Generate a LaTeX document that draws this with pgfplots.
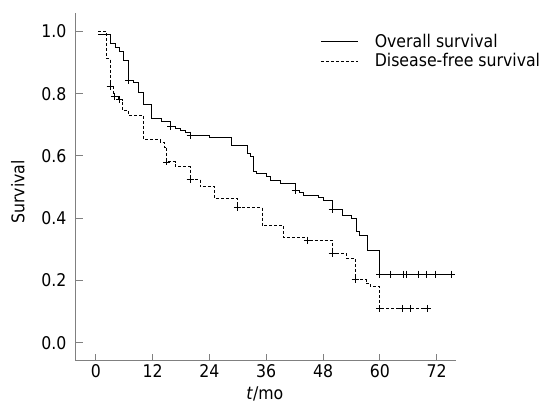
\documentclass[border=0pt]{standalone}
\usepackage{pgfplots}
\pgfplotsset{compat=1.18}
\usepackage{fontspec}
\setmainfont{DejaVu Sans Condensed}
\newcommand{\F}{\fontsize{17.5}{21}\selectfont}
\begin{document}
\begin{tikzpicture}
\path[use as bounding box] (-76pt,-53pt) rectangle (473pt,361pt);
\begin{axis}[
  at={(0pt,0pt)}, anchor=south west, scale only axis,
  width=380pt, height=348pt,
  xmin=-4.2, xmax=76.1, ymin=-0.058, ymax=1.059,
  axis lines=left,
  axis line style={-, draw=gray, line width=1pt},
  tick align=inside, major tick length=7pt,
  tick style={draw=gray, line width=1pt},
  xtick={0,12,24,36,48,60,72},
  ytick={0,0.2,0.4,0.6,0.8,1},
  /pgf/number format/assume math mode=true,
  tick label style={font=\F},
  yticklabel style={/pgf/number format/.cd, fixed, fixed zerofill, precision=1, /tikz/.cd, xshift=-6pt},
  xlabel={\textit{t}/mo},
  ylabel={Survival},
  label style={font=\F},
  xlabel style={at={(axis description cs:0.497,-0.112)}, anchor=base},
  ylabel style={at={(axis description cs:-0.153,0.486)}, anchor=center},
  legend style={at={(axis description cs:0.636,0.952)}, anchor=north west, draw=none, fill=none, font=\F, row sep=1pt},
  legend cell align=left,
  legend image code/.code={\draw[#1] (0pt,0pt) -- (37pt,0pt); \path (51pt,0pt);},
]
\addplot[const plot, black, line width=0.9pt] coordinates {
(0.5,0.990) (3.0,0.960) (4.1,0.947) (5.0,0.937) (5.8,0.907) (6.9,0.843)
(7.9,0.835) (9.0,0.803) (10.1,0.764) (11.8,0.721) (13.9,0.711) (15.8,0.694)
(16.8,0.688) (17.8,0.683) (18.9,0.677) (19.9,0.667) (24.0,0.658) (28.7,0.635)
(32.0,0.608) (32.6,0.597) (33.2,0.549) (34.0,0.544) (36.1,0.533) (36.8,0.522)
(38.9,0.512) (42.1,0.490) (43.0,0.482) (43.9,0.474) (47.0,0.467) (48.0,0.458)
(49.9,0.428) (52.0,0.410) (54.1,0.400) (55.1,0.357) (55.8,0.346) (57.3,0.298)
(60.0,0.221) (75.8,0.221)
};
\addlegendentry{Overall survival}
\addplot[const plot, black, line width=0.9pt, dash pattern=on 3pt off 2pt] coordinates {
(0.5,1.000) (2.2,0.914) (3.0,0.824) (3.7,0.792) (4.8,0.781) (5.7,0.747)
(6.9,0.731) (10.1,0.653) (13.6,0.645) (14.4,0.629) (15.0,0.581) (16.8,0.566)
(19.9,0.525) (22.0,0.501) (25.1,0.464) (29.9,0.435) (35.1,0.378) (39.6,0.339)
(44.7,0.330) (49.9,0.287) (53.0,0.271) (54.8,0.204) (57.1,0.191) (58.0,0.180)
(60.0,0.111) (70.5,0.111)
};
\addlegendentry{Disease-free survival}
\addplot[only marks, mark=+, mark size=3.5pt, black, line width=0.8pt, forget plot] coordinates {
(6.9,0.843) (15.8,0.694) (19.9,0.667) (42.1,0.490) (49.9,0.428)
(60,0.221) (62.2,0.221) (65.0,0.221) (65.7,0.221) (68.2,0.221) (69.9,0.221) (71.8,0.221) (75.2,0.221)
};
\addplot[only marks, mark=+, mark size=3.5pt, black, line width=0.8pt, forget plot] coordinates {
(3.0,0.824) (3.9,0.792) (5.0,0.781) (15.0,0.581) (19.9,0.525) (29.9,0.435)
(44.7,0.330) (49.9,0.287) (54.8,0.204) (60,0.111) (64.7,0.111) (66.5,0.111) (70.1,0.111)
};
\end{axis}
\end{tikzpicture}
\end{document}
